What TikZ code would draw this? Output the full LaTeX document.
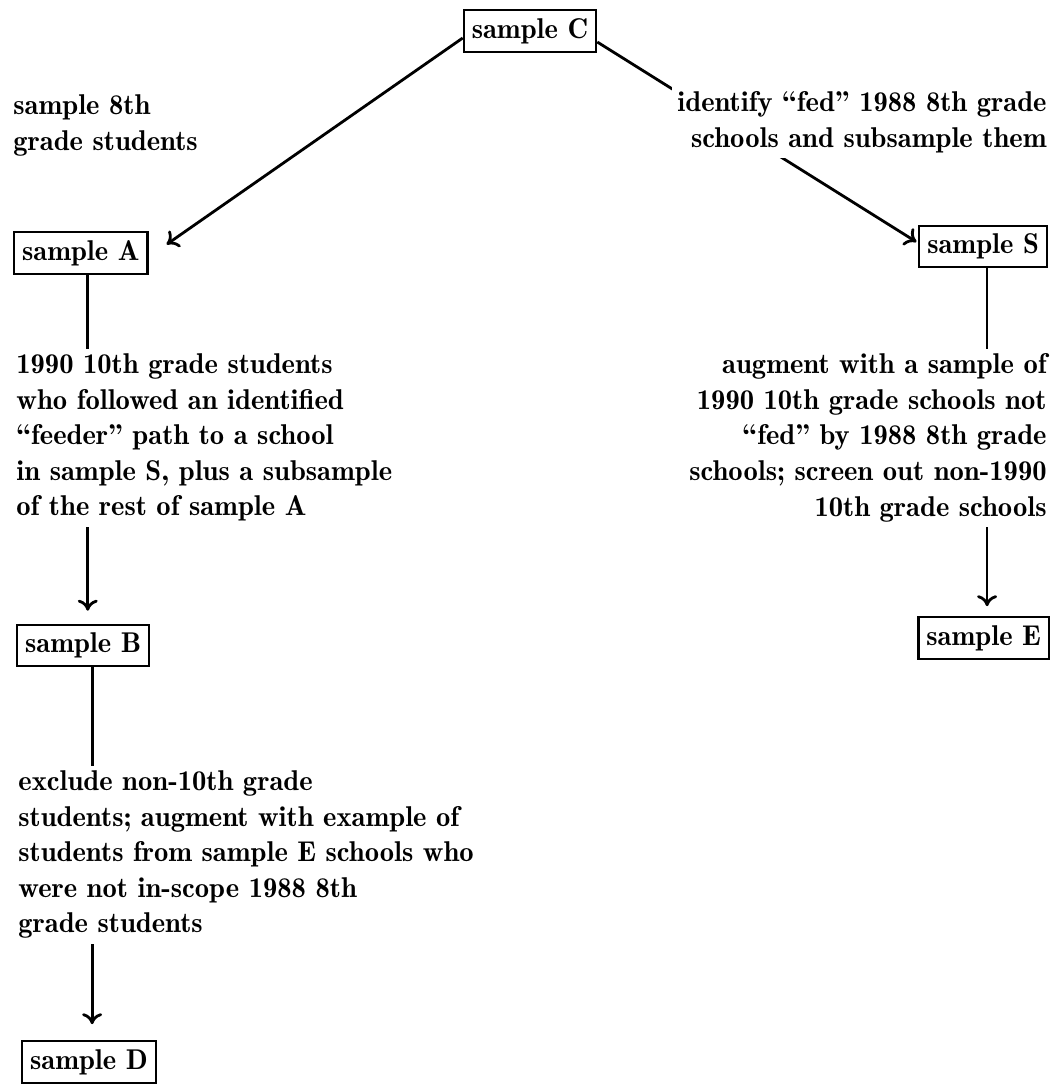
\documentclass[tikz,border=0pt]{standalone}
\usepackage{fontspec}
\setmainfont{lmromandemi10-regular.otf}
\usetikzlibrary{arrows.meta,backgrounds}
\tikzset{
  every node/.style={font=\fontsize{14.3}{17.8}\selectfont},
  sbox/.style={draw, line width=1.1pt, inner xsep=4pt, inner ysep=4pt},
  noteL/.style={fill=white, inner sep=2.5pt, align=left, anchor=north west},
  noteR/.style={fill=white, inner sep=2.5pt, align=right, anchor=north east},
  conn/.style={line width=1.4pt},
  arr/.style={conn, -{Computer Modern Rightarrow[length=5.5pt,width=10pt]}},
}
\begin{document}
\begin{tikzpicture}[x=0.5pt,y=-0.5pt]
\useasboundingbox (0,0) rectangle (1056,1084);
% boxes
\node[sbox] (C) at (530,31) {sample C};
\node[sbox, anchor=west] (A) at (13,253) {sample A};
\node[sbox, anchor=east] (S) at (1048,246.5) {sample S};
\node[sbox, anchor=west] (B) at (16,645.5) {sample B};
\node[sbox, anchor=east] (E) at (1050,638) {sample E};
\node[sbox, anchor=west] (D) at (21,1062) {sample D};
% texts
\node[noteL] (t8) at (8,89.3) {sample 8th\\grade students};
\node[noteR] (tId) at (1052,86.3) {identify “fed” 1988 8th grade\\schools and subsample them};
\node[noteL] (tA) at (11,348.3) {1990 10th grade students\\who followed an identified\\“feeder” path to a school\\in sample S, plus a subsample\\of the rest of sample A};
\node[noteR] (tAug) at (1052,348.3) {augment with a sample of\\1990 10th grade schools not\\“fed” by 1988 8th grade\\schools; screen out non-1990\\10th grade schools};
\node[noteL] (tB) at (13,765.3) {exclude non-10th grade\\students; augment with example of\\students from sample E schools who\\were not in-scope 1988 8th\\grade students};
% connectors
\begin{pgfonlayer}{background}
\draw[arr, shorten >=11pt] ([yshift=-3.5pt]C.west) -- ([yshift=-2pt]A.east);
\draw[arr, shorten >=1pt] ([yshift=-5.5pt]C.east) -- ([yshift=1.75pt]S.west);
\draw[arr, shorten >=6.5pt] ([xshift=3.5pt]A.south) -- ([xshift=3.5pt]A.south |- B.north);
\draw[arr, shorten >=5pt] ([xshift=2pt]S.south) -- ([xshift=2pt]S.south |- E.north);
\draw[arr, shorten >=8pt] ([xshift=4.5pt]B.south) -- ([xshift=4.5pt]B.south |- D.north);
\end{pgfonlayer}
\end{tikzpicture}
\end{document}
